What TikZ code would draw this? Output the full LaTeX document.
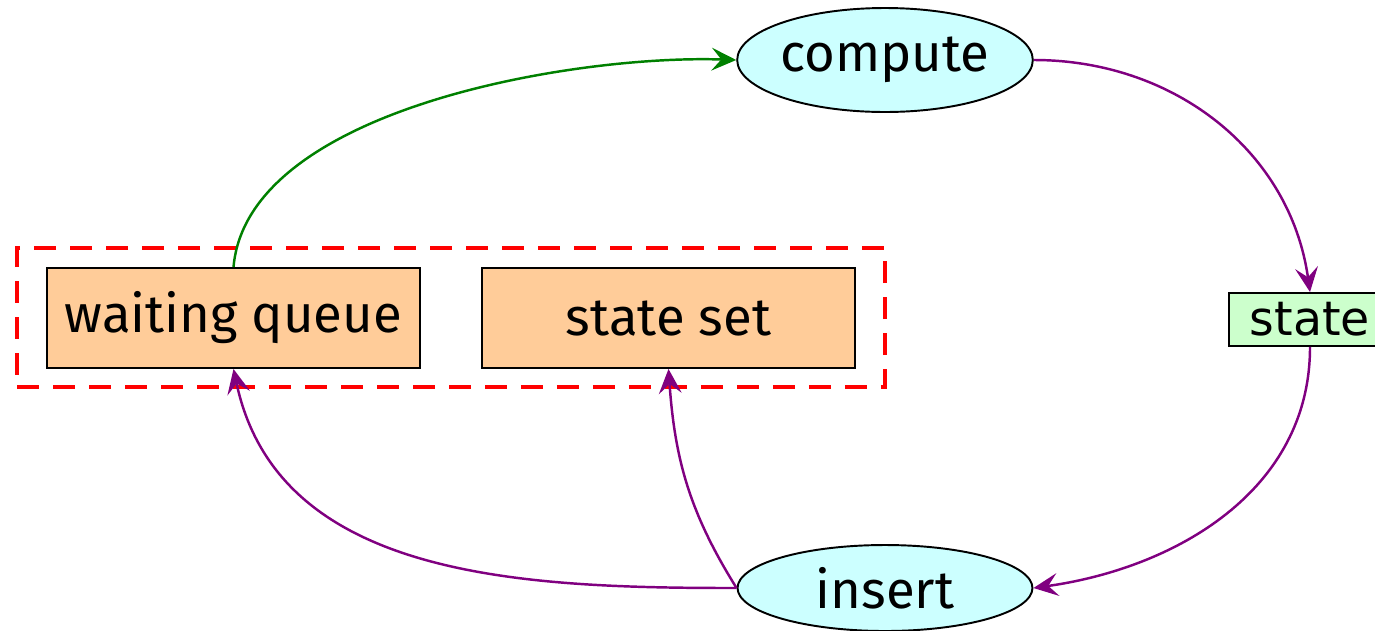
\documentclass[tikz,border=0pt]{standalone}
\usepackage{fontspec}
\setmainfont{Fira Sans}
\newfontfamily\statefont{DejaVu Sans}
\usetikzlibrary{shapes.geometric,arrows.meta}
\definecolor{nodecyan}{RGB}{204,255,255}
\definecolor{nodeorange}{RGB}{255,204,153}
\definecolor{nodegreen}{RGB}{204,255,204}
\definecolor{arrowgreen}{RGB}{0,128,0}
\definecolor{arrowpurple}{RGB}{128,0,128}
\tikzset{
  txt/.style={font=\fontsize{30}{30}\selectfont, text=black},
  oval/.style={ellipse, draw=black, line width=1.1pt, fill=nodecyan, inner sep=0pt, minimum width=5.9cm, txt},
  store/.style={rectangle, draw=black, line width=1.1pt, fill=nodeorange, inner sep=0pt, minimum width=7.46cm, minimum height=2cm, txt},
  item/.style={rectangle, draw=black, line width=1.1pt, fill=nodegreen, inner sep=0pt, minimum width=3.24cm, minimum height=1.06cm, font=\statefont\fontsize{27}{27}\selectfont},
  group/.style={rectangle, draw=red, line width=2.6pt, dash pattern=on 0.44cm off 0.28cm, minimum width=17.36cm, minimum height=2.78cm},
  flow/.style={line width=1.4pt, -{Stealth[length=14pt, width=13pt, inset=5.5pt]}},
}
\begin{document}
\begin{tikzpicture}[x=0.02cm, y=-0.02cm]
  \useasboundingbox (0,0) rectangle (1375,630);
  % grouped data structures
  \node[group] (grp) at (451,317.5) {};
  \node[store] (wq) at (233.5,318) {waiting queue};
  \node[store] (ss) at (668.5,318) {state set};
  % processing steps
  \node[oval, minimum height=2.08cm] (compute) at (885,60) {compute};
  \node[oval, minimum height=1.72cm] (insert) at (885,588) {insert};
  \node[item] (state) at (1310,319.5) {state};
  % connectors
  \draw[flow, arrowgreen] (wq.north) to[out=85, in=178, looseness=0.75] (compute.west);
  \draw[flow, arrowpurple] (compute.east) to[out=0, in=98] (state.north);
  \draw[flow, arrowpurple] (state.south) to[out=-90, in=8] (insert.east);
  \draw[flow, arrowpurple] (insert.west) to[out=180, in=-78] (wq.south);
  \draw[flow, arrowpurple] (insert.west) to[out=122, in=-86] (ss.south);
\end{tikzpicture}
\end{document}
